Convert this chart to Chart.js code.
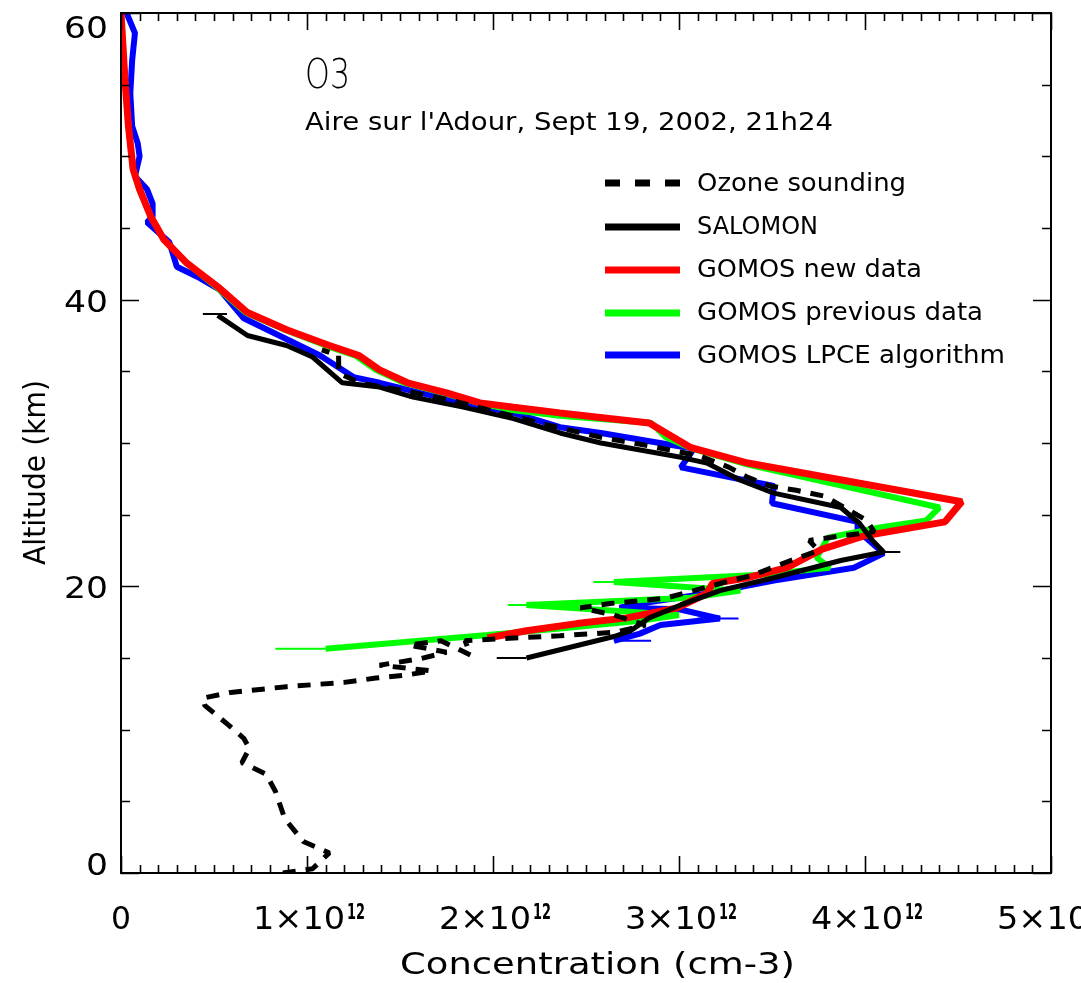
<!DOCTYPE html>
<html>
<head>
<meta charset="utf-8">
<script src="https://cdn.jsdelivr.net/npm/chart.js@4.4.1/dist/chart.umd.min.js"></script>
<style>
  html, body { margin: 0; padding: 0; background: #fff; }
  canvas { display: block; }
</style>
</head>
<body>
<canvas id="c" width="1081" height="983"></canvas>
<script>
// ---------------- DATA (concentration in units of 1e12 cm-3, altitude in km) ----------------
const seriesNames = ["Ozone sounding", "SALOMON", "GOMOS new data", "GOMOS previous data", "GOMOS LPCE algorithm"];

const soundingAlt  = [0.0, 0.3, 1.4, 2.2, 3.8, 5.7, 6.9, 7.7, 8.7, 9.4, 10.3, 11.7, 12.2, 12.6, 13.0, 13.3, 13.6, 13.8, 14.1, 14.5, 14.95, 15.4, 15.9, 16.2, 15.2, 16.2, 16.35, 16.55, 16.8, 17.3, 18.0, 18.5, 18.8, 19.0, 19.15, 19.7, 20.3, 20.75, 21.8, 22.5, 23.2, 23.55, 23.8, 24.6, 25.5, 26.3, 26.7, 27.0, 27.6, 28.3, 29.1, 29.8, 30.4, 31.2, 32.1, 33.0, 33.7, 34.2, 34.9, 36.1, 36.5];
const soundingConc = [0.87, 1.03, 1.12, 0.98, 0.88, 0.83, 0.78, 0.65, 0.69, 0.66, 0.58, 0.45, 0.44, 0.59, 0.89, 1.20, 1.37, 1.53, 1.67, 1.39, 1.61, 1.75, 1.55, 1.72, 1.88, 1.85, 2.04, 2.36, 2.66, 2.82, 2.65, 2.47, 2.63, 2.79, 2.92, 3.08, 3.25, 3.39, 3.60, 3.75, 3.70, 3.89, 4.05, 4.01, 3.89, 3.78, 3.63, 3.49, 3.37, 3.27, 3.11, 2.84, 2.58, 2.31, 2.04, 1.77, 1.50, 1.28, 1.17, 1.17, 1.08];

const salomonAlt  = [38.9, 37.5, 36.8, 36.0, 34.2, 33.9, 33.2, 32.5, 31.7, 30.7, 30.0, 29.0, 28.6, 27.4, 26.5, 25.5, 24.4, 23.2, 22.4, 21.8, 20.6, 19.7, 18.7, 17.8, 16.9, 16.5, 15.0];
const salomonConc = [0.52, 0.68, 0.89, 1.03, 1.19, 1.39, 1.57, 1.84, 2.11, 2.36, 2.58, 3.01, 3.15, 3.33, 3.51, 3.87, 3.97, 4.04, 4.10, 3.87, 3.51, 3.22, 3.01, 2.84, 2.74, 2.65, 2.18];
// thin end-bars of the SALOMON profile
const salomonBarAlt = [39.0, 22.4, 15.0];
const salomonBarLo  = [0.44, 4.08, 2.02];
const salomonBarHi  = [0.57, 4.19, 2.18];

const gomosNewAlt  = [60.0, 55.6, 52.1, 49.1, 47.7, 45.8, 44.2, 42.6, 40.9, 39.1, 37.9, 36.8, 36.1, 35.1, 34.2, 33.5, 32.8, 32.5, 32.1, 31.4, 29.7, 28.6, 25.9, 24.5, 23.5, 22.6, 21.3, 20.6, 20.2, 19.5, 18.5, 17.8, 17.4, 16.9, 16.4];
const gomosNewConc = [0.00, 0.02, 0.04, 0.065, 0.10, 0.16, 0.23, 0.35, 0.52, 0.68, 0.89, 1.12, 1.28, 1.39, 1.54, 1.75, 1.93, 2.11, 2.36, 2.84, 3.06, 3.37, 4.52, 4.43, 3.99, 3.77, 3.58, 3.37, 3.18, 3.15, 2.99, 2.72, 2.45, 2.18, 1.97];

const gomosPrevAlt  = [60.0, 55.6, 52.1, 49.1, 47.7, 45.8, 44.2, 42.6, 40.9, 39.1, 37.9, 36.8, 36.1, 35.1, 34.2, 33.5, 32.8, 32.3, 31.9, 31.4, 30.4, 29.6, 28.5, 25.5, 24.6, 24.1, 23.4, 22.0, 21.3, 20.8, 20.3, 19.7, 19.2, 18.7, 18.0, 17.6, 17.05, 16.6, 15.65];
const gomosPrevConc = [0.00, 0.02, 0.04, 0.065, 0.10, 0.16, 0.23, 0.35, 0.51, 0.67, 0.88, 1.10, 1.26, 1.37, 1.52, 1.73, 1.92, 2.10, 2.36, 2.85, 2.93, 3.07, 3.37, 4.40, 4.33, 4.08, 3.80, 3.74, 3.81, 3.44, 2.65, 3.33, 3.06, 2.18, 3.00, 2.79, 2.36, 1.97, 1.10];
// thin tips of the previous-data spikes
const gomosPrevBarAlt = [20.3, 18.7, 15.65];
const gomosPrevBarLo  = [2.54, 2.08, 0.83];
const gomosPrevBarHi  = [2.70, 2.25, 1.10];

const lpceAlt  = [60.0, 58.6, 56.7, 54.4, 52.1, 50.9, 50.0, 48.6, 47.7, 46.7, 45.8, 45.4, 44.0, 42.3, 41.6, 40.7, 38.7, 37.5, 36.1, 34.6, 34.2, 33.5, 32.8, 32.1, 31.1, 30.7, 29.6, 28.3, 27.0, 25.8, 24.5, 23.9, 22.3, 21.3, 20.4, 19.5, 18.8, 18.5, 18.4, 17.75, 17.3, 16.7, 16.2];
const lpceConc = [0.03, 0.075, 0.06, 0.05, 0.06, 0.09, 0.10, 0.075, 0.14, 0.17, 0.17, 0.14, 0.26, 0.30, 0.41, 0.53, 0.66, 0.85, 1.07, 1.25, 1.39, 1.61, 1.84, 2.11, 2.36, 2.58, 3.08, 3.01, 3.51, 3.50, 3.96, 3.96, 4.10, 3.94, 3.51, 3.15, 2.79, 2.68, 3.00, 3.22, 2.90, 2.79, 2.65];
const lpceBarAlt = [17.75, 16.2];
const lpceBarLo  = [3.10, 2.65];
const lpceBarHi  = [3.32, 2.85];

// axis ticks
const xMajorTicks = [0, 1, 2, 3, 4, 5];
const xTickMantissa = ["0", "1×10", "2×10", "3×10", "4×10", "5×10"];
const xTickExponent = ["", "12", "12", "12", "12", "12"];
const yMajorTicks = [0, 20, 40, 60];
const yTickLabels = ["0", "20", "40", "60"];
const xMinorStep = 0.1;
const yMinorStep = 5;

const titleMain = "O3";
const titleSub = "Aire sur l'Adour, Sept 19, 2002, 21h24";
const xAxisTitle = "Concentration (cm-3)";
const yAxisTitle = "Altitude (km)";

// ---------------- BUILD DATASETS ----------------
function pts(conc, alt) { return conc.map((c, i) => ({ x: c, y: alt[i] })); }
function bars(alt, lo, hi) {
  const out = [];
  alt.forEach((a, i) => { out.push({ x: lo[i], y: a }, { x: hi[i], y: a }, { x: NaN, y: NaN }); });
  return out;
}
const base = { showLine: true, pointRadius: 0, pointHoverRadius: 0, fill: false, tension: 0, spanGaps: false };

const datasets = [
  Object.assign({}, base, { label: seriesNames[0], data: pts(soundingConc, soundingAlt), borderColor: "#000000", borderWidth: 5, borderDash: [13, 10], legend: true, legendDash: [15, 15] }),
  Object.assign({}, base, { label: seriesNames[1], data: pts(salomonConc, salomonAlt), borderColor: "#000000", borderWidth: 5, legend: true }),
  Object.assign({}, base, { label: "SALOMON bars", data: bars(salomonBarAlt, salomonBarLo, salomonBarHi), borderColor: "#000000", borderWidth: 2 }),
  Object.assign({}, base, { label: seriesNames[2], data: pts(gomosNewConc, gomosNewAlt), borderColor: "#ff0000", borderWidth: 7, legend: true }),
  Object.assign({}, base, { label: seriesNames[3], data: pts(gomosPrevConc, gomosPrevAlt), borderColor: "#00ff00", borderWidth: 6, legend: true }),
  Object.assign({}, base, { label: "GOMOS previous bars", data: bars(gomosPrevBarAlt, gomosPrevBarLo, gomosPrevBarHi), borderColor: "#00ff00", borderWidth: 2 }),
  Object.assign({}, base, { label: seriesNames[4], data: pts(lpceConc, lpceAlt), borderColor: "#0000ff", borderWidth: 6, legend: true }),
  Object.assign({}, base, { label: "GOMOS LPCE bars", data: bars(lpceBarAlt, lpceBarLo, lpceBarHi), borderColor: "#0000ff", borderWidth: 2 })
];

// ---------------- DRAWING HELPERS ----------------
const FONT = '"DejaVu Sans", "Liberation Sans", sans-serif';
function fitText(ctx, txt, x, y, size, width, weight) {
  ctx.save();
  ctx.font = (weight || "normal") + " " + size + "px " + FONT;
  ctx.textAlign = "left";
  ctx.textBaseline = "alphabetic";
  const m = ctx.measureText(txt).width;
  ctx.translate(x, y);
  ctx.scale(width / m, 1);
  ctx.fillStyle = "#000";
  ctx.fillText(txt, 0, 0);
  ctx.restore();
}

const decorPlugin = {
  id: "decor",
  afterDraw(chart) {
    const ctx = chart.ctx;
    const a = chart.chartArea;
    const xs = chart.scales.x, ys = chart.scales.y;
    ctx.save();
    ctx.strokeStyle = "#000";
    ctx.lineWidth = 2;
    ctx.setLineDash([]);
    ctx.strokeRect(a.left, a.top, a.right - a.left, a.bottom - a.top);

    // x ticks (bottom & top)
    ctx.lineWidth = 1.6;
    ctx.beginPath();
    for (let k = 0; k <= Math.round(xs.max / xMinorStep); k++) {
      const v = k * xMinorStep;
      const px = Math.round(xs.getPixelForValue(v)) + 0.5;
      const major = xMajorTicks.some(t => Math.abs(t - v) < 1e-6);
      const len = major ? 17 : 8;
      ctx.moveTo(px, a.bottom); ctx.lineTo(px, a.bottom - len);
      ctx.moveTo(px, a.top); ctx.lineTo(px, a.top + len);
    }
    // y ticks (left & right)
    for (let k = 0; k <= Math.round(ys.max / yMinorStep); k++) {
      const v = k * yMinorStep;
      const py = Math.round(ys.getPixelForValue(v)) + 0.5;
      const major = yMajorTicks.some(t => Math.abs(t - v) < 1e-6);
      const len = major ? 18 : 9;
      ctx.moveTo(a.left, py); ctx.lineTo(a.left + len, py);
      ctx.moveTo(a.right, py); ctx.lineTo(a.right - len, py);
    }
    ctx.stroke();

    // x tick labels
    xMajorTicks.forEach((v, i) => {
      const px = xs.getPixelForValue(v);
      if (xTickExponent[i] === "") {
        fitText(ctx, xTickMantissa[i], px - 10, a.bottom + 56, 32, 20);
      } else {
        fitText(ctx, xTickMantissa[i], px - 54, a.bottom + 56, 32, 92);
        fitText(ctx, xTickExponent[i], px + 40, a.bottom + 46, 21, 18, "bold");
      }
    });
    // y tick labels
    yMajorTicks.forEach((v, i) => {
      const py = ys.getPixelForValue(v);
      let base = py + 12;
      if (base - 23 < a.top) base = a.top + 25;
      if (base > a.bottom) base = a.bottom + 2;
      const w = yTickLabels[i].length * 22;
      fitText(ctx, yTickLabels[i], a.left - 13 - w, base, 31, w);
    });

    // axis titles
    fitText(ctx, xAxisTitle, 400, a.bottom + 101, 31, 395);
    ctx.save();
    ctx.translate(45, 565);
    ctx.rotate(-Math.PI / 2);
    fitText(ctx, yAxisTitle, 0, 0, 31, 185);
    ctx.restore();

    // in-plot titles
    fitText(ctx, titleMain, 305, 88, 40, 45, "300");
    fitText(ctx, titleSub, 305, 130, 25, 528);

    // legend
    const legendItems = chart.data.datasets.filter(d => d.legend);
    const lineY = [183, 227, 270, 313, 355];
    const textY = [191, 234, 277, 320, 363];
    const textW = [209, 121, 225, 286, 308];
    legendItems.forEach((d, i) => {
      ctx.save();
      ctx.strokeStyle = d.borderColor;
      ctx.lineWidth = 7;
      ctx.lineCap = "butt";
      ctx.setLineDash(d.legendDash || []);
      ctx.beginPath();
      ctx.moveTo(605, lineY[i]);
      ctx.lineTo(680, lineY[i]);
      ctx.stroke();
      ctx.restore();
      fitText(ctx, d.label, 697, textY[i], 24, textW[i]);
    });
    ctx.restore();
  }
};

new Chart(document.getElementById("c").getContext("2d"), {
  type: "scatter",
  data: { datasets: datasets },
  options: {
    responsive: false,
    animation: false,
    layout: { padding: { left: 121, right: 30, top: 13, bottom: 110 } },
    plugins: { legend: { display: false }, tooltip: { enabled: false } },
    elements: { line: { borderJoinStyle: "bevel", borderCapStyle: "butt" } },
    scales: {
      x: { type: "linear", min: 0, max: 5, display: false },
      y: { type: "linear", min: 0, max: 60, display: false }
    }
  },
  plugins: [decorPlugin]
});
</script>
</body>
</html>
